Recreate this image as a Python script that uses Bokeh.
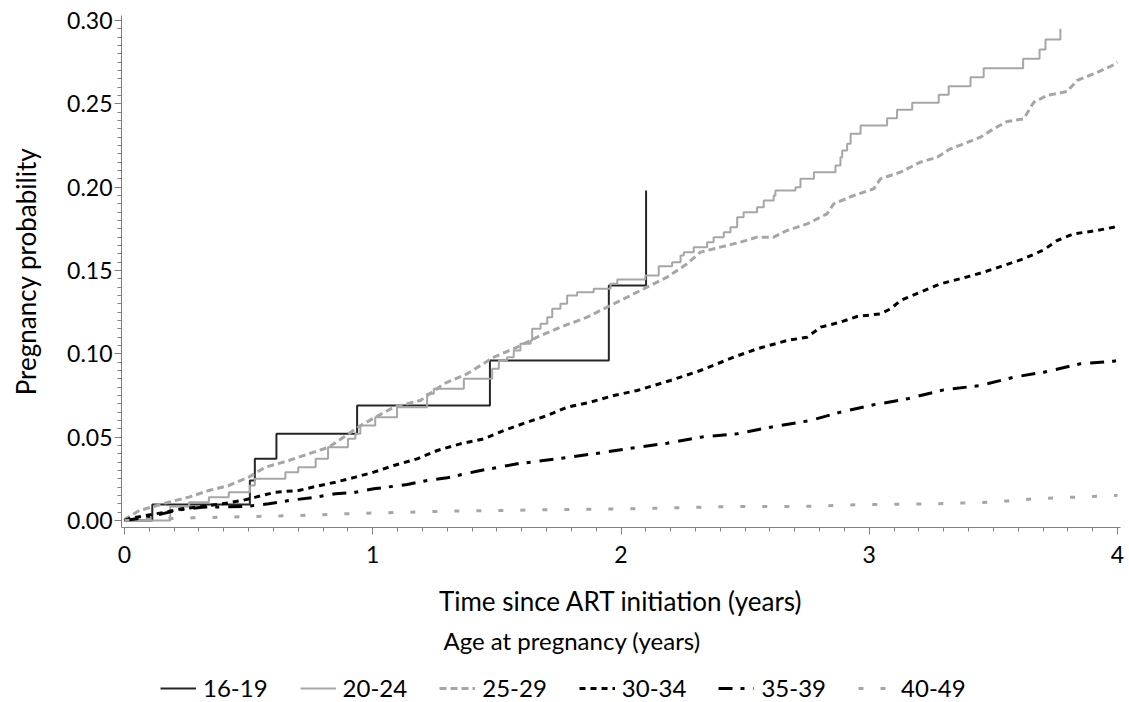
from bokeh.plotting import figure
from bokeh.layouts import column
from bokeh.models import (Range1d, SingleIntervalTicker, Legend, LegendItem, Label,
                          PrintfTickFormatter)
from bokeh.embed import file_html
from bokeh.resources import INLINE

FONT = "Lato"

# ---- data ----
labels = ["16-19", "20-24", "25-29", "30-34", "35-39", "40-49"]

x_1619 = [0, 0.112, 0.505, 0.525, 0.612, 0.937, 1.472, 1.951, 2.101]
y_1619 = [0, 0.0096, 0.024, 0.037, 0.052, 0.069, 0.096, 0.141, 0.198]

x_2024 = [0, 0.184, 0.26, 0.34, 0.42, 0.505, 0.525, 0.648, 0.70, 0.77, 0.82, 0.90, 0.93,
          0.95, 1.01, 1.098, 1.219, 1.246, 1.367, 1.481, 1.508, 1.541, 1.568, 1.595,
          1.636, 1.642, 1.676, 1.703, 1.723, 1.756, 1.783, 1.823, 1.890, 1.958, 1.985,
          2.098, 2.152, 2.206, 2.24, 2.253, 2.293, 2.347, 2.373, 2.414, 2.441, 2.468,
          2.494, 2.548, 2.575, 2.615, 2.622, 2.703, 2.723, 2.777, 2.864, 2.884, 2.891,
          2.911, 2.925, 2.965, 3.072, 3.112, 3.173, 3.280, 3.320, 3.408, 3.461, 3.620,
          3.686, 3.710, 3.770]
y_2024 = [0, 0.0084, 0.011, 0.014, 0.017, 0.021, 0.025, 0.029, 0.032, 0.037, 0.044, 0.049,
          0.052, 0.057, 0.062, 0.068, 0.076, 0.079, 0.085, 0.091, 0.096, 0.098, 0.102,
          0.106, 0.108, 0.115, 0.118, 0.122, 0.127, 0.130, 0.135, 0.137, 0.139, 0.142,
          0.1446, 0.147, 0.1526, 0.155, 0.159, 0.161, 0.164, 0.167, 0.170, 0.173, 0.176,
          0.182, 0.185, 0.188, 0.192, 0.195, 0.198, 0.200, 0.205, 0.209, 0.213, 0.218,
          0.222, 0.226, 0.232, 0.237, 0.2414, 0.2464, 0.2506, 0.2554, 0.2606, 0.266,
          0.2714, 0.277, 0.2826, 0.2886, 0.295]

x_2529 = [0, 0.004, 0.06, 0.178, 0.259, 0.34, 0.42, 0.50, 0.568, 0.662, 0.742, 0.823,
          0.903, 0.951, 1.011, 1.085, 1.192, 1.286, 1.380, 1.488, 1.582, 1.662, 1.756,
          1.864, 1.944, 2.025, 2.105, 2.186, 2.266, 2.32, 2.40, 2.481, 2.548, 2.615,
          2.669, 2.75, 2.83, 2.857, 2.938, 3.018, 3.045, 3.126, 3.206, 3.274, 3.327,
          3.381, 3.448, 3.501, 3.555, 3.622, 3.663, 3.716, 3.797, 3.837, 3.904, 3.985, 4.0]
y_2529 = [0, 0.001, 0.006, 0.011, 0.014, 0.018, 0.021, 0.026, 0.032, 0.036, 0.040, 0.044,
          0.052, 0.057, 0.062, 0.068, 0.072, 0.082, 0.088, 0.098, 0.104, 0.110, 0.116,
          0.122, 0.128, 0.134, 0.140, 0.146, 0.154, 0.161, 0.164, 0.167, 0.170, 0.170,
          0.174, 0.178, 0.184, 0.190, 0.195, 0.199, 0.205, 0.209, 0.215, 0.218, 0.223,
          0.226, 0.230, 0.235, 0.2394, 0.241, 0.251, 0.255, 0.2574, 0.264, 0.268, 0.2734,
          0.275]

x_3034 = [0, 0.017, 0.085, 0.165, 0.232, 0.313, 0.394, 0.474, 0.528, 0.608, 0.702, 0.769,
          0.85, 0.93, 1.004, 1.085, 1.179, 1.26, 1.353, 1.447, 1.528, 1.622, 1.703, 1.783,
          1.877, 1.971, 2.065, 2.132, 2.199, 2.32, 2.454, 2.548, 2.669, 2.75, 2.804,
          2.884, 2.951, 3.045, 3.086, 3.126, 3.206, 3.287, 3.381, 3.461, 3.542, 3.622,
          3.703, 3.757, 3.824, 3.918, 3.985, 4.0]
y_3034 = [0, 0.001, 0.003, 0.005, 0.007, 0.0084, 0.010, 0.012, 0.014, 0.017, 0.018,
          0.0204, 0.023, 0.026, 0.029, 0.033, 0.037, 0.042, 0.046, 0.049, 0.054, 0.059,
          0.063, 0.068, 0.071, 0.075, 0.078, 0.081, 0.084, 0.090, 0.098, 0.103, 0.108,
          0.110, 0.116, 0.119, 0.1224, 0.124, 0.127, 0.132, 0.137, 0.142, 0.1456, 0.149,
          0.153, 0.157, 0.1624, 0.168, 0.172, 0.174, 0.176, 0.177]

x_3539 = [0, 0.098, 0.205, 0.313, 0.474, 0.528, 0.581, 0.662, 0.769, 0.85, 0.93, 1.004,
          1.139, 1.219, 1.30, 1.42, 1.582, 1.743, 1.890, 2.025, 2.186, 2.32, 2.468, 2.615,
          2.763, 2.884, 3.018, 3.153, 3.30, 3.448, 3.582, 3.703, 3.851, 3.985, 4.0]
y_3539 = [0, 0.002, 0.006, 0.008, 0.0084, 0.009, 0.010, 0.012, 0.014, 0.016, 0.017, 0.019,
          0.0216, 0.024, 0.0256, 0.0296, 0.034, 0.037, 0.040, 0.043, 0.0464, 0.050, 0.052,
          0.0564, 0.060, 0.065, 0.0694, 0.073, 0.0784, 0.081, 0.086, 0.089, 0.094, 0.0956,
          0.096]

x_4049 = [0, 0.1, 0.273, 0.528, 0.702, 0.89, 0.977, 1.313, 1.676, 2.025, 2.45, 2.72, 2.99,
          3.26, 3.50, 3.66, 3.925, 4.0]
y_4049 = [0, 0.0008, 0.0016, 0.0024, 0.003, 0.004, 0.0044, 0.0056, 0.0064, 0.007, 0.0084,
          0.0084, 0.0096, 0.010, 0.011, 0.013, 0.0146, 0.015]

x_title = "Time since ART initiation (years)"
y_title = "Pregnancy probability"
legend_title = "Age at pregnancy (years)"

GRAY = "#a6a6a6"
series = [
    ("step", x_1619, y_1619, dict(line_color="#262626", line_width=2)),
    ("step", x_2024, y_2024, dict(line_color=GRAY, line_width=2)),
    ("line", x_2529, y_2529, dict(line_color=GRAY, line_width=3, line_dash="7 4")),
    ("line", x_3034, y_3034, dict(line_color="#000000", line_width=3, line_dash="6 5")),
    ("line", x_3539, y_3539, dict(line_color="#000000", line_width=3, line_dash="14 8 4 9")),
    ("line", x_4049, y_4049, dict(line_color=GRAY, line_width=3, line_dash="5 17")),
]


def draw(fig, kind, xs, ys, style):
    if kind == "step":
        return fig.step(xs, ys, mode="after", **style)
    return fig.line(xs, ys, **style)


W = 1129
# ---- main figure ----
p = figure(width=W, height=620, output_backend="svg", toolbar_location=None,
           x_range=Range1d(-0.01208, 4.01208), y_range=Range1d(-0.0042, 0.303),
           min_border_left=121, min_border_right=9, min_border_top=15,
           min_border_bottom=93)
p.outline_line_color = None
p.xgrid.visible = False
p.ygrid.visible = False
p.background_fill_color = "white"
p.border_fill_color = "white"

for kind, xs, ys, style in series:
    draw(p, kind, xs, ys, style)

for ax in (p.xaxis[0], p.yaxis[0]):
    ax.axis_line_color = "#808080"
    ax.major_tick_line_color = "#808080"
    ax.minor_tick_line_color = "#808080"
    ax.major_tick_out = 7
    ax.major_tick_in = 0
    ax.minor_tick_out = 4
    ax.minor_tick_in = 0
    ax.major_label_text_font = FONT
    ax.major_label_text_font_size = "23px"
    ax.major_label_text_color = "black"
    ax.axis_label_text_font = FONT
    ax.axis_label_text_font_size = "26px"
    ax.axis_label_text_font_style = "normal"
    ax.axis_label_text_color = "black"

p.xaxis.ticker = SingleIntervalTicker(interval=1, num_minor_ticks=10)
p.xaxis.major_label_standoff = 11
p.xaxis.axis_label = x_title
p.xaxis.axis_label_standoff = 19

p.yaxis.ticker = SingleIntervalTicker(interval=0.05, num_minor_ticks=10)
p.yaxis.formatter = PrintfTickFormatter(format="%.2f")
p.yaxis.major_label_standoff = 2
p.yaxis.axis_label = y_title
p.yaxis.axis_label_standoff = 22

# ---- legend strip below (same frame alignment as the main plot) ----
H2 = 82
p2 = figure(width=W, height=H2, output_backend="svg", toolbar_location=None,
            x_range=Range1d(10, 11), y_range=Range1d(10, 11),
            min_border_left=121, min_border_right=9, min_border_top=0,
            min_border_bottom=0, x_axis_type=None, y_axis_type=None)
p2.outline_line_color = None
p2.xgrid.visible = False
p2.ygrid.visible = False

p2.add_layout(Label(x=322, y=H2 - 20, x_units="screen", y_units="screen",
                    text=legend_title, text_font=FONT, text_font_size="24px",
                    text_color="black", text_baseline="middle", text_align="left"))

# same series drawn outside the strip's visible range, used only as legend glyphs
legend_renderers = [draw(p2, kind, xs, ys, style) for kind, xs, ys, style in series]
items = [LegendItem(label=lab, renderers=[r]) for lab, r in zip(labels, legend_renderers)]
leg = Legend(items=items, orientation="horizontal", location=(39, 0),
             label_text_font=FONT, label_text_font_size="24px", label_text_color="black",
             glyph_width=36, glyph_height=20, label_standoff=7, spacing=32,
             padding=0, margin=0, border_line_color=None,
             background_fill_alpha=0)
p2.add_layout(leg, "center")

layout = column(p, p2, spacing=0)
open("out.html", "w").write(file_html(layout, INLINE))
